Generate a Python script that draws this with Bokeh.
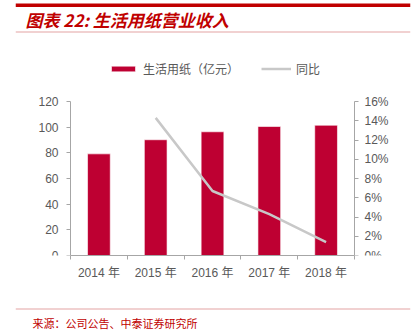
from bokeh.plotting import figure
from bokeh.models import (Range1d, LinearAxis, FixedTicker, PrintfTickFormatter,
                          Legend, LegendItem)
from bokeh.layouts import column
from bokeh.embed import file_html
from bokeh.resources import INLINE
from bokeh.core.properties import value

# ---- data ----
years = ["2014 年", "2015 年", "2016 年", "2017 年", "2018 年"]
revenue = [79.2, 90.2, 96.4, 100.5, 101.5]          # 亿元
yoy_years = ["2015 年", "2016 年", "2017 年", "2018 年"]
yoy = [14.3, 6.7, 4.3, 1.4]                          # %
left_ticks = [0, 20, 40, 60, 80, 100, 120]
right_ticks = [0, 2, 4, 6, 8, 10, 12, 14, 16]
left_max = 120
right_max = 16

title_text = "图表 22: 生活用纸营业收入"
source_text = "来源：公司公告、中泰证券研究所"
bar_label = "生活用纸（亿元）"
line_label = "同比"

RED = "#BE0032"
DARK_RED = "#C00000"
PINK = "#E3A3A3"
GRAY_LINE = "#C8C8C8"
AXIS = "#A6A6A6"
TXT = "#595959"
CJK = "Noto Sans CJK SC"
LAT = "Liberation Sans, Noto Sans CJK SC"

W = 415
FL, FR = 15, 410                   # shared frame edges of all three figures
AX_L, AX_R = 70, 354               # pixel positions of the left / right axes
TOP_H = 41
BOT_H = 31
MAIN_H = 331 - TOP_H - BOT_H       # 259
B_TOP, B_BOT = 14, 45
FRAME_H = MAIN_H - B_TOP - B_BOT   # 200
AXIS_H = 154                       # pixel height of the 0..120 axis
ext = FRAME_H / AXIS_H

n = len(years)
ppu = (AX_R - AX_L) / n            # pixels per category
x_start = -(AX_L - FL) / ppu
x_end = n + (FR - AX_R) / ppu


def blank(h):
    f = figure(width=W, height=h, x_range=Range1d(FL, FR), y_range=Range1d(h, 0),
               output_backend="svg", toolbar_location=None, title=None,
               x_axis_location=None, y_axis_location=None,
               min_border_left=FL, min_border_right=W - FR, min_border_top=0, min_border_bottom=0)
    f.outline_line_color = None
    f.grid.visible = False
    return f


# ---- header ----
top = blank(TOP_H)
top.quad(left=[FL], right=[FR], top=[3], bottom=[6.5], fill_color=DARK_RED, line_color=None)
top.quad(left=[FL], right=[FR], top=[31], bottom=[32], fill_color=PINK, line_color=None)
top.text(x=[25], y=[18.5], text=[title_text], text_color=DARK_RED,
         text_font=value(CJK), text_font_size="17px", text_font_style="bold italic",
         text_baseline="middle", text_align="left")

# ---- main chart ----
xc = [i + 0.5 for i in range(n)]
yoy_x = [years.index(y) + 0.5 for y in yoy_years]

p = figure(width=W, height=MAIN_H, x_range=Range1d(x_start, x_end),
           y_range=Range1d(0, left_max * ext),
           output_backend="svg", toolbar_location=None, title=None,
           min_border_left=FL, min_border_right=W - FR, min_border_top=B_TOP, min_border_bottom=B_BOT)
p.outline_line_color = None
p.grid.visible = False
p.extra_y_ranges = {"pct": Range1d(0, right_max * ext)}

bars = p.vbar(x=xc, top=revenue, width=0.4, fill_color=RED, line_color="white", line_width=0.6)
ln = p.line(x=yoy_x, y=yoy, y_range_name="pct", line_color=GRAY_LINE, line_width=2.5)

xa = p.xaxis[0]
xa.bounds = (0, n)
xa.ticker = FixedTicker(ticks=xc, minor_ticks=list(range(n + 1)))
xa.major_label_overrides = {x: y for x, y in zip(xc, years)}
xa.major_tick_out = 0
xa.major_tick_in = 0
xa.minor_tick_out = 4
xa.minor_tick_in = 0
xa.minor_tick_line_color = AXIS
xa.axis_line_color = AXIS
xa.major_label_text_color = TXT
xa.major_label_text_font = LAT
xa.major_label_text_font_size = "12px"
xa.major_label_standoff = 6

ya = p.yaxis[0]
ya.fixed_location = 0
ya.ticker = FixedTicker(ticks=left_ticks)
ya.bounds = (0, left_max)
ya.major_tick_out = 4
ya.major_tick_in = 0
ya.minor_tick_line_color = None
ya.axis_line_color = AXIS
ya.major_tick_line_color = AXIS
ya.major_label_text_color = TXT
ya.major_label_text_font = LAT
ya.major_label_text_font_size = "12px"
ya.major_label_standoff = 8

ra = LinearAxis(y_range_name="pct", ticker=FixedTicker(ticks=right_ticks),
                formatter=PrintfTickFormatter(format="%d%%"), bounds=(0, right_max),
                fixed_location=n)
ra.major_tick_out = 4
ra.major_tick_in = 0
ra.minor_tick_line_color = None
ra.axis_line_color = AXIS
ra.major_tick_line_color = AXIS
ra.major_label_text_color = TXT
ra.major_label_text_font = LAT
ra.major_label_text_font_size = "12px"
ra.major_label_standoff = 6
p.add_layout(ra, "right")

legend = Legend(items=[LegendItem(label=bar_label, renderers=[bars]),
                       LegendItem(label=line_label, renderers=[ln])],
                orientation="horizontal", location=(108 - FL, FRAME_H - 22),
                glyph_width=30, glyph_height=7, label_standoff=5, spacing=22,
                padding=0, margin=0, border_line_color=None, background_fill_alpha=0,
                label_text_font=CJK, label_text_font_size="12px", label_text_color=TXT,
                label_height=16)
p.add_layout(legend, "center")

# ---- footer ----
bot = blank(BOT_H)
bot.quad(left=[FL], right=[FR], top=[8], bottom=[9], fill_color=PINK, line_color=None)
bot.text(x=[32], y=[22], text=[source_text], text_color=DARK_RED,
         text_font=value(CJK), text_font_size="11px",
         text_baseline="middle", text_align="left")

layout = column(top, p, bot, spacing=0)
open("out.html", "w").write(file_html(layout, INLINE))
